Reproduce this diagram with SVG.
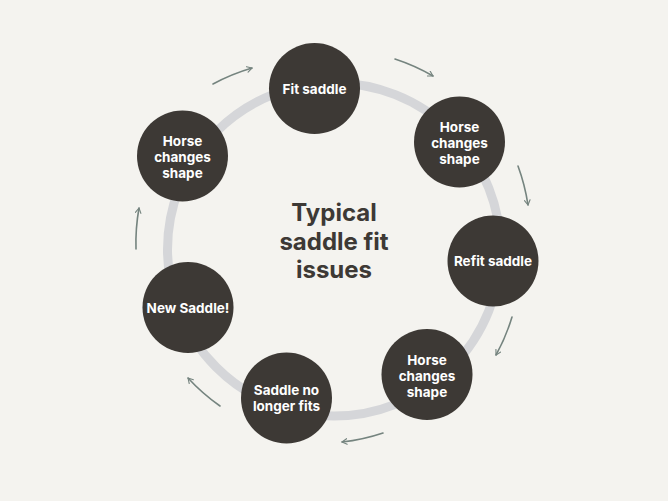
<svg xmlns="http://www.w3.org/2000/svg" width="668" height="501" viewBox="0 0 668 501">
<defs>
<style>
.node{fill:#3d3935}
.lbl{fill:#ffffff;font-family:"Inter","Open Sans","Liberation Sans",sans-serif;font-weight:700;font-size:13.5px;text-anchor:middle}
.title{fill:#3d3935;font-family:"Inter","Open Sans","Liberation Sans",sans-serif;font-weight:700;font-size:24px;text-anchor:middle}
.arr{fill:none;stroke:#75847f;stroke-width:1.6;stroke-linecap:round;marker-end:url(#ah)}
</style>
<marker id="ah" viewBox="0 0 10 10" refX="8" refY="5" markerWidth="7" markerHeight="7" markerUnits="userSpaceOnUse" orient="auto">
<path d="M1,1 L8,5 L1,9" fill="none" stroke="#75847f" stroke-width="1.6" stroke-linecap="round" stroke-linejoin="round"/>
</marker>
</defs>
<rect width="668" height="501" fill="#f4f3ef"/>
<circle id="ring" cx="334" cy="249.5" r="166.5" fill="none" stroke="#d5d6d9" stroke-width="9"/>
<g id="connectors">
<path class="arr" d="M213,84 A200,200 0 0 1 252,68"/>
<path class="arr" d="M395,59 A200,200 0 0 1 433,76"/>
<path class="arr" d="M518,166 A200,200 0 0 1 528,205"/>
<path class="arr" d="M512,317 A192,192 0 0 1 496,355"/>
<path class="arr" d="M383,433 A192,192 0 0 1 342,442"/>
<path class="arr" d="M220,406 A194,194 0 0 1 188,378"/>
<path class="arr" d="M136,249 A199,199 0 0 1 139,208"/>
</g>
<g id="title"><text class="title" x="334" y="221">Typical</text><text class="title" x="334" y="249.5">saddle fit</text><text class="title" x="334" y="278">issues</text></g>
<g id="n-fit"><circle class="node" cx="314.5" cy="88.5" r="45.5"/><text class="lbl" x="314.5" y="93.5">Fit saddle</text></g>
<g id="n-horse1"><circle class="node" cx="459.5" cy="142" r="45.5"/><text class="lbl" x="459.5" y="132">Horse</text><text class="lbl" x="459.5" y="148">changes</text><text class="lbl" x="459.5" y="164">shape</text></g>
<g id="n-refit"><circle class="node" cx="493" cy="261" r="45.5"/><text class="lbl" x="493" y="266">Refit saddle</text></g>
<g id="n-horse2"><circle class="node" cx="427" cy="374.5" r="45.5"/><text class="lbl" x="427" y="364.5">Horse</text><text class="lbl" x="427" y="380.5">changes</text><text class="lbl" x="427" y="396.5">shape</text></g>
<g id="n-nofit"><circle class="node" cx="286.5" cy="398" r="45.5"/><text class="lbl" x="286.5" y="395">Saddle no</text><text class="lbl" x="286.5" y="411">longer fits</text></g>
<g id="n-new"><circle class="node" cx="188" cy="307.5" r="45.5"/><text class="lbl" x="188" y="312.5">New Saddle!</text></g>
<g id="n-horse3"><circle class="node" cx="182.5" cy="156" r="45.5"/><text class="lbl" x="182.5" y="146">Horse</text><text class="lbl" x="182.5" y="162">changes</text><text class="lbl" x="182.5" y="178">shape</text></g>
</svg>
